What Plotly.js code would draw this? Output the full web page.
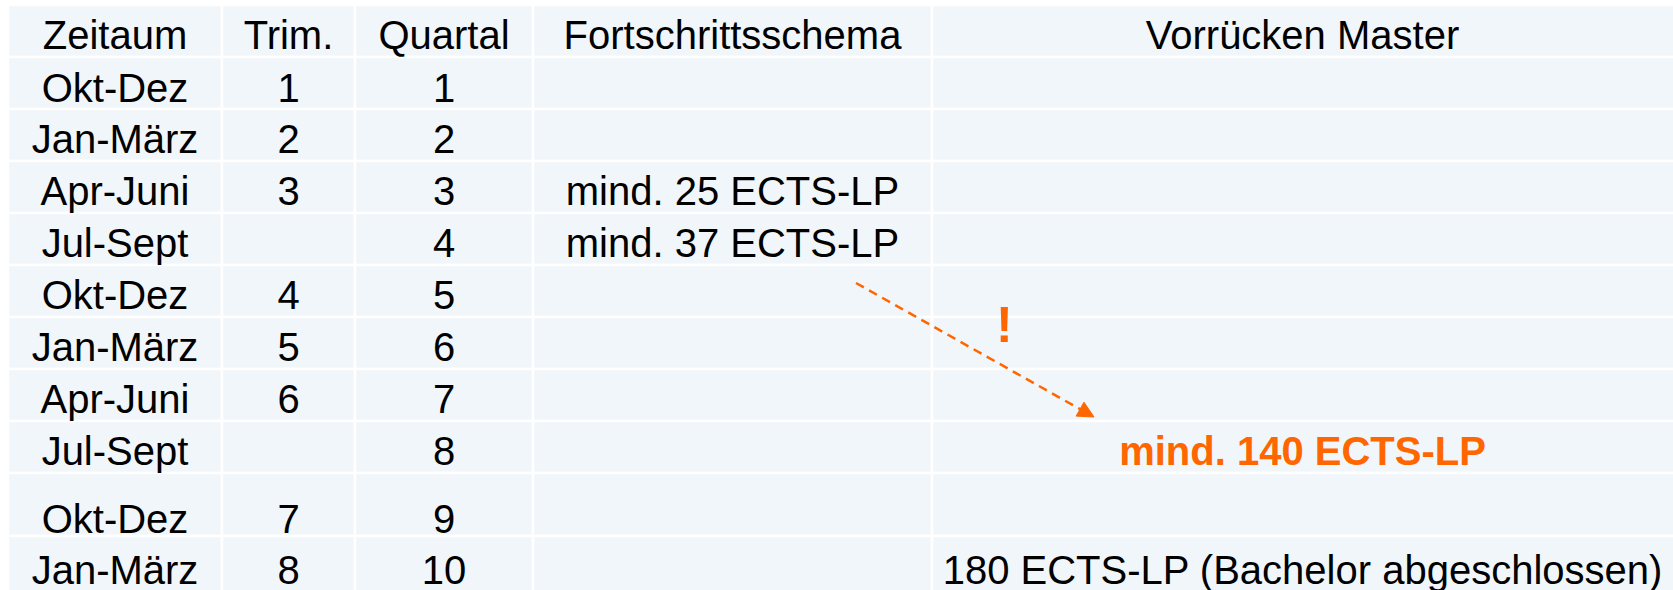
<!DOCTYPE html>
<html>
<head>
<meta charset="utf-8">
<script src="https://cdn.plot.ly/plotly-3.0.1.min.js"></script>
<style>
  html, body { margin: 0; padding: 0; background: #ffffff; }
  #chart { width: 1673px; height: 590px; }
</style>
</head>
<body>
<div id="chart"></div>
<script>
// ---- data ----
const header = ['Zeitaum', 'Trim.', 'Quartal', 'Fortschrittsschema', 'Vorrücken Master'];
const zeitraum = ['Okt-Dez', 'Jan-März', 'Apr-Juni', 'Jul-Sept', 'Okt-Dez', 'Jan-März', 'Apr-Juni', 'Jul-Sept', 'Okt-Dez', 'Jan-März'];
const trimester = ['1', '2', '3', '', '4', '5', '6', '', '7', '8'];
const quartal = ['1', '2', '3', '4', '5', '6', '7', '8', '9', '10'];
const fortschritt = ['', '', 'mind. 25 ECTS-LP', 'mind. 37 ECTS-LP', '', '', '', '', '', ''];
const vorruecken = ['', '', '', '', '', '', '', 'mind. 140 ECTS-LP', '', '180 ECTS-LP (Bachelor abgeschlossen)'];
const alertMark = '!';

// ---- layout geometry / styles (not data) ----
const W = 1673, H = 590;
const colEdges = [8, 222, 355, 533, 932, 1673];
const rowEdges = [5, 57, 109, 161, 213, 265, 317, 369, 421, 473, 536, 592];
const textOffsetFromBottom = [18, 17, 18, 18, 18, 18, 18, 18, 18, 13, 18];
const cellFill = '#F1F6FA';
const orange = '#FF6600';
const fontFamily = 'Liberation Sans, Arial, Helvetica, sans-serif';
const fontSize = 40;
const emphasis = { col: 4, row: 8 }; // row index incl. header
const arrowFrom = [856, 283], arrowTo = [1094, 417];
const alertPos = [1004, 325];

const columns = [zeitraum, trimester, quartal, fortschritt, vorruecken];
const nRows = rowEdges.length - 1;
const rowTextY = [];
for (let r = 0; r < nRows; r++) rowTextY.push(rowEdges[r + 1] - textOffsetFromBottom[r]);

const traces = columns.map((col, c) => {
  const cx = (colEdges[c] + colEdges[c + 1]) / 2;
  const texts = [header[c]].concat(col);
  const colors = texts.map((t, r) => (c === emphasis.col && r === emphasis.row) ? orange : '#000000');
  const shown = texts.map((t, r) => (c === emphasis.col && r === emphasis.row && t) ? '<b>' + t + '</b>' : t);
  return {
    type: 'scatter',
    mode: 'text',
    x: texts.map(() => cx),
    y: rowTextY,
    text: shown,
    textposition: 'middle center',
    textfont: { family: fontFamily, size: fontSize, color: colors },
    hoverinfo: 'skip',
    showlegend: false,
    cliponaxis: false
  };
});

const shapes = [];
for (let c = 0; c < colEdges.length - 1; c++) {
  for (let r = 0; r < nRows; r++) {
    shapes.push({
      type: 'rect', xref: 'x', yref: 'y', layer: 'below',
      x0: colEdges[c], x1: colEdges[c + 1] + (c === colEdges.length - 2 ? 4 : 0),
      y0: rowEdges[r], y1: rowEdges[r + 1],
      fillcolor: cellFill,
      line: { color: '#ffffff', width: 2.5 }
    });
  }
}

// dashed arrow
const dx = arrowTo[0] - arrowFrom[0], dy = arrowTo[1] - arrowFrom[1];
const len = Math.sqrt(dx * dx + dy * dy);
const ux = dx / len, uy = dy / len, nx = -uy, ny = ux;
const headLen = 16, headHalf = 8;
const bx = arrowTo[0] - headLen * ux, by = arrowTo[1] - headLen * uy;
shapes.push({
  type: 'line', xref: 'x', yref: 'y',
  x0: arrowFrom[0], y0: arrowFrom[1], x1: bx, y1: by,
  line: { color: orange, width: 2.5, dash: '9px,6px' }
});
shapes.push({
  type: 'path', xref: 'x', yref: 'y',
  path: 'M ' + arrowTo[0] + ' ' + arrowTo[1] +
        ' L ' + (bx + headHalf * nx) + ' ' + (by + headHalf * ny) +
        ' L ' + (bx - headHalf * nx) + ' ' + (by - headHalf * ny) + ' Z',
  fillcolor: orange, line: { color: orange, width: 1 }
});

const layout = {
  width: W, height: H,
  margin: { l: 0, r: 0, t: 0, b: 0, pad: 0 },
  paper_bgcolor: '#ffffff', plot_bgcolor: '#ffffff',
  xaxis: { range: [0, W], visible: false, fixedrange: true },
  yaxis: { range: [H, 0], visible: false, fixedrange: true },
  shapes: shapes,
  annotations: [{
    x: alertPos[0], y: alertPos[1], xref: 'x', yref: 'y',
    text: '<b>' + alertMark + '</b>', showarrow: false,
    font: { family: fontFamily, size: 50, color: orange },
    xanchor: 'center', yanchor: 'middle'
  }],
  showlegend: false
};

Plotly.newPlot('chart', traces, layout, { staticPlot: true, displayModeBar: false });
</script>
</body>
</html>
